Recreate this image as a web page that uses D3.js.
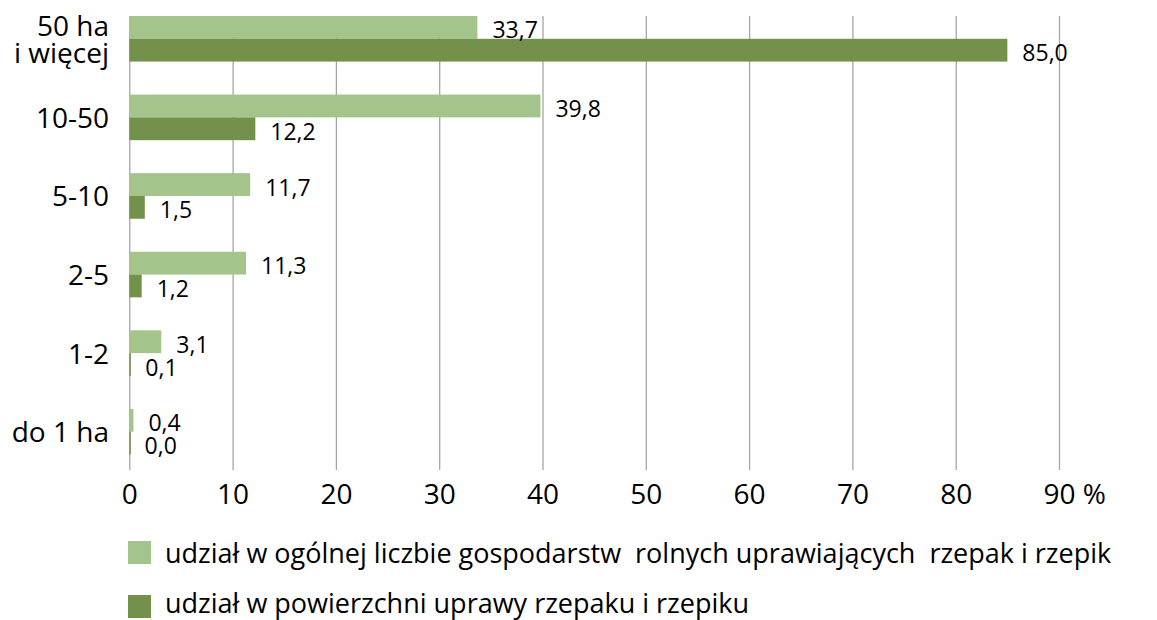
<!DOCTYPE html>
<html>
<head>
<meta charset="utf-8">
<script src="https://cdn.jsdelivr.net/npm/d3@7"></script>
<style>
  body { margin: 0; background: #fff; }
  text { font-family: "Open Sans", "Noto Sans", sans-serif; fill: #000; }
</style>
</head>
<body>
<script>
// categories top to bottom
var categories = ["50 ha|i więcej", "10-50", "5-10", "2-5", "1-2", "do 1 ha"];
var seriesNames = [
    "udział w ogólnej liczbie gospodarstw  rolnych uprawiających  rzepak i rzepik",
    "udział w powierzchni uprawy rzepaku i rzepiku"
];
var farmsShare = [33.7, 39.8, 11.7, 11.3, 3.1, 0.4];
var areaShare = [85.0, 12.2, 1.5, 1.2, 0.1, 0.03];
var xTicks = [0, 10, 20, 30, 40, 50, 60, 70, 80, 90];
var colors = ["#a3c48a", "#74914c"];

window.onload = drawChart();

function drawChart(){
    var w = 1157, h = 620;

    var svg = d3.select("body")
        .append("svg")
        .attr("width", w)
        .attr("height", h);

    var x = d3.scaleLinear()
        .domain([0, 90])
        .range([129.3, 1059]);

    var y = d3.scaleBand()
        .domain(categories)
        .range([-0.5, 471])
        .paddingInner(0.42)
        .paddingOuter(0.21);

    var ySub = d3.scaleBand()
        .domain([0, 1])
        .range([0, y.bandwidth()]);

    var gridTop = 16, gridBottom = 470;

    // vertical gridlines + tick labels
    var xAxis = svg.append("g")
        .attr("transform", "translate(0," + gridBottom + ")")
        .call(d3.axisBottom(x)
            .tickValues(xTicks)
            .tickSizeInner(-(gridBottom - gridTop))
            .tickSizeOuter(0)
            .tickPadding(14));
    xAxis.select(".domain").remove();
    xAxis.selectAll(".tick line")
        .attr("stroke", "#a6a6a6")
        .attr("stroke-width", 1.3);
    xAxis.selectAll(".tick text")
        .attr("font-size", 28)
        .attr("font-family", "Open Sans")
        .attr("fill", "#000");

    // "90 %" : keep the number centred on its gridline
    var last = xAxis.selectAll(".tick text").filter(function(d){ return d === 90; });
    var wNum = last.node().getComputedTextLength();
    last.attr("text-anchor", "start").attr("x", -wNum / 2);
    last.append("tspan").text(" %");

    var rows = categories.map(function(c, i){
        return { cat: c, values: [farmsShare[i], areaShare[i]] };
    });

    var groups = svg.selectAll(".row")
        .data(rows)
        .enter()
        .append("g")
        .attr("class", "row")
        .attr("transform", function(d){ return "translate(0," + y(d.cat) + ")"; });

    groups.selectAll("rect")
        .data(function(d){ return d.values; })
        .enter()
        .append("rect")
        .attr("x", x(0))
        .attr("y", function(d, i){ return ySub(i); })
        .attr("width", function(d){ return Math.max(x(d) - x(0), 1.5); })
        .attr("height", ySub.bandwidth())
        .attr("fill", function(d, i){ return colors[i]; });

    groups.selectAll(".lbl")
        .data(function(d){ return d.values; })
        .enter()
        .append("text")
        .attr("class", "lbl")
        .attr("x", function(d){ return x(d) + 15; })
        .attr("y", function(d, i){ return ySub(i) + ySub.bandwidth() / 2 + 11; })
        .attr("font-size", 23)
        .text(function(d){ return d.toFixed(1).replace(".", ","); });

    // category labels
    svg.selectAll(".cat")
        .data(categories)
        .enter()
        .append("text")
        .attr("class", "cat")
        .attr("text-anchor", "end")
        .attr("font-size", 28)
        .each(function(d){
            var lines = d.split("|");
            var cy = y(d) + y.bandwidth() / 2;
            var t = d3.select(this);
            lines.forEach(function(l, k){
                t.append("tspan")
                    .attr("x", 109)
                    .attr("y", cy + 10.5 - (lines.length - 1) * 13.3 + k * 26.6)
                    .text(l);
            });
        });

    // legend
    var legend = svg.selectAll(".legend")
        .data(seriesNames)
        .enter()
        .append("g")
        .attr("class", "legend")
        .attr("transform", function(d, i){ return "translate(128," + (541 + i * 54) + ")"; });
    legend.append("rect")
        .attr("width", 23)
        .attr("height", 23)
        .attr("fill", function(d, i){ return colors[i]; });
    legend.append("text")
        .attr("x", 37)
        .attr("y", function(d, i){ return 22 - i * 4; })
        .attr("font-size", 27)
        .style("white-space", "pre")
        .text(function(d){ return d; });
}
</script>
</body>
</html>
